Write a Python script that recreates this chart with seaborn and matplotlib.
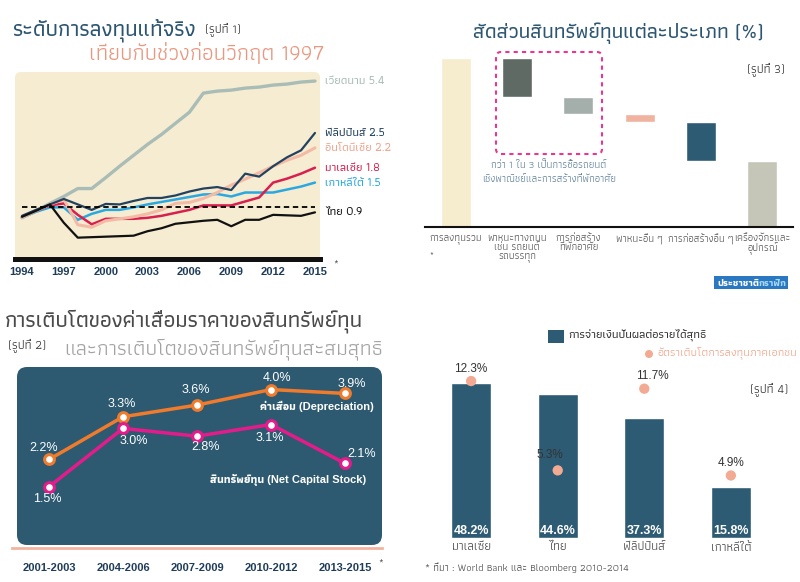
import numpy as np
import seaborn as sns
import matplotlib.pyplot as plt
import matplotlib.transforms as mtransforms
from matplotlib.patches import FancyBboxPatch, Rectangle, Circle

# ---- data -------------------------------------------------------------
years = list(range(1994, 2016))
vietnam = [0.79, 0.93, 1.08, 1.22, 1.38, 1.38, 1.60, 1.83, 2.05, 2.27, 2.47,
           2.88, 3.54, 4.68, 4.80, 4.86, 4.98, 5.04, 5.16, 5.22, 5.34, 5.40]
philippines = [0.83, 0.95, 1.06, 1.17, 1.06, 0.95, 1.07, 1.06, 1.13, 1.19, 1.19,
               1.24, 1.32, 1.38, 1.41, 1.35, 1.68, 1.62, 1.83, 2.01, 2.15, 2.50]
indonesia = [0.80, 0.93, 1.06, 1.16, 0.65, 0.60, 0.73, 0.77, 0.81, 0.87, 0.95,
             1.08, 1.10, 1.18, 1.30, 1.45, 1.57, 1.70, 1.83, 1.95, 2.05, 2.20]
malaysia = [0.81, 0.93, 1.04, 1.08, 0.85, 0.66, 0.77, 0.77, 0.77, 0.79, 0.83,
            0.89, 0.95, 1.04, 1.04, 1.04, 1.12, 1.20, 1.50, 1.58, 1.68, 1.80]
korea = [0.80, 0.91, 1.00, 1.00, 0.75, 0.87, 0.95, 0.95, 1.00, 1.06, 1.11,
         1.16, 1.21, 1.26, 1.27, 1.22, 1.30, 1.30, 1.30, 1.36, 1.42, 1.50]
thailand = [0.81, 0.93, 1.06, 0.69, 0.39, 0.40, 0.41, 0.42, 0.43, 0.52, 0.58,
            0.67, 0.70, 0.73, 0.75, 0.62, 0.75, 0.75, 0.85, 0.84, 0.83, 0.90]
pre_crisis_level = 1.0

periods = ['2001-2003', '2004-2006', '2007-2009', '2010-2012', '2013-2015']
depreciation = [2.2, 3.3, 3.6, 4.0, 3.9]
net_capital = [1.5, 3.0, 2.8, 3.1, 2.1]

asset_types = ['การลงทุนรวม', 'พาหนะทางถนน\nเช่น รถยนต์\nรถบรรทุก',
               'การก่อสร้าง\nที่พักอาศัย', 'พาหนะอื่น ๆ', 'การก่อสร้างอื่น ๆ',
               'เครื่องจักรและ\nอุปกรณ์']
asset_share = [100, 23, 10, 5, 23, 39]

countries = ['มาเลเซีย', 'ไทย', 'ฟิลิปปินส์', 'เกาหลีใต้']
payout = [48.2, 44.6, 37.3, 15.8]
private_growth = [12.3, 5.3, 11.7, 4.9]

# ---- style ------------------------------------------------------------
sns.set_style('white')
plt.rcParams['font.family'] = ['Athiti', 'DejaVu Sans']
LATIN = ['Liberation Sans', 'Athiti', 'DejaVu Sans']

W, H = 800, 582
fig = plt.figure(figsize=(8, 5.82), dpi=100)


def rect(x0, y0, x1, y1):
    return [x0 / W, 1 - y1 / H, (x1 - x0) / W, (y1 - y0) / H]


def ftext(x, y, s, **kw):
    return fig.text(x / W, 1 - y / H, s, **kw)


def rbox(x0, y0, x1, y1, r=0.08, **kw):
    p = FancyBboxPatch((x0 / 100, (H - y1) / 100), (x1 - x0) / 100, (y1 - y0) / 100,
                       boxstyle=f'round,pad=0,rounding_size={r}',
                       transform=fig.dpi_scale_trans, zorder=-1, **kw)
    fig.add_artist(p)


# ---- panel 1: real investment vs pre-crisis --------------------------
BREAK, K = 2.6, 0.338


def fwd(v):
    v = np.asarray(v, dtype=float)
    return np.where(v <= BREAK, v, BREAK + (v - BREAK) * K)


def inv(u):
    u = np.asarray(u, dtype=float)
    return np.where(u <= BREAK, u, BREAK + (u - BREAK) / K)


rbox(15, 72, 320, 262, r=0.06, fc='#f6ecd2', ec='none')
ax1 = fig.add_axes(rect(15, 72, 320, 259))
ax1.patch.set_visible(False)
ax1.set_yscale('function', functions=(fwd, inv))
lines1 = [('เวียดนาม', vietnam, '#a9bdb6', '#a9bdb6', 2.4),
          ('เกาหลีใต้', korea, '#2aa8e0', '#2aa8e0', 1.8),
          ('มาเลเซีย', malaysia, '#d8204e', '#d8204e', 1.8),
          ('อินโดนีเซีย', indonesia, '#f3bba6', '#eea58e', 2.2),
          ('ฟิลิปปินส์', philippines, '#22425f', '#22425f', 1.6),
          ('ไทย', thailand, '#111111', '#111111', 1.6)]
blend = mtransforms.blended_transform_factory(ax1.transAxes, ax1.transData)
for name, vals, col, tcol, lw in lines1:
    sns.lineplot(x=years, y=vals, color=col, lw=lw, ax=ax1)
    ax1.text(1.016, vals[-1], f'{name} {vals[-1]:.1f}', transform=blend,
             color=tcol, fontsize=8.5, fontweight='medium', va='center')
ax1.hlines(pre_crisis_level, years[0], years[-1], color='black', lw=1.3,
           linestyles=(0, (3, 2)))
ax1.set_xlim(1993.5, 2015.36)
ax1.set_ylim(-0.04, 5.94)
for s in ['top', 'right', 'left']:
    ax1.spines[s].set_visible(False)
ax1.spines['bottom'].set_color('#111111')
ax1.spines['bottom'].set_linewidth(3.6)
ax1.set_xticks(years[::3], [str(y) for y in years[::3]], fontweight='bold',
               family=LATIN, fontsize=8, color='#1f3d5a')
ax1.set_yticks([])
ax1.tick_params(axis='x', length=0, pad=6)
ax1.set_xlabel('')
ax1.set_ylabel('')
ftext(333, 267, '*', fontsize=7, color='#333')

ftext(12, 30, 'ระดับการลงทุนแท้จริง', fontsize=16, fontweight='medium',
      color='#2b5570', va='center')
ftext(205, 30, '(รูปที่ 1)', fontsize=9, style='italic', color='#333', va='center')
ftext(325, 53, 'เทียบกับช่วงก่อนวิกฤต 1997', fontsize=16, color='#e9977f',
      ha='right', va='center')

# ---- panel 2: depreciation vs net capital stock ----------------------
rbox(17, 367, 382, 545, r=0.1, fc='#2d5a71', ec='none')
ax2 = fig.add_axes(rect(12, 367, 382, 545))
ax2.patch.set_visible(False)
for s in ['top', 'right', 'left']:
    ax2.spines[s].set_visible(False)
ax2.spines['bottom'].set_position(('outward', 2))
ax2.spines['bottom'].set_color('#f2b4a1')
ax2.spines['bottom'].set_linewidth(2)
x2 = list(range(len(periods)))
for vals, col in [(depreciation, '#f07b2c'), (net_capital, '#e41b8b')]:
    sns.lineplot(x=x2, y=vals, color=col, lw=2.5, marker='o', markersize=7,
                 markerfacecolor='white', markeredgecolor=col,
                 markeredgewidth=2.2, ax=ax2)
dep_off = [(-4, 8), (-1, 9), (-1, 11), (4, 8), (5, 7)]
net_off = [(-1, -9), (8, -9), (6, -8), (-1, -10), (12, 7)]
for i in x2:
    ax2.annotate(f'{depreciation[i]:.1f}%', (i, depreciation[i]), xytext=dep_off[i],
                 textcoords='offset points', ha='center', va='center',
                 color='white', fontsize=9, family=LATIN)
    ax2.annotate(f'{net_capital[i]:.1f}%', (i, net_capital[i]), xytext=net_off[i],
                 textcoords='offset points', ha='center', va='center',
                 color='white', fontsize=9, family=LATIN)
ax2.text(0.978, 0.781, 'ค่าเสื่อม (Depreciation)', transform=ax2.transAxes,
         ha='right', va='center', color='white', fontsize=8, fontweight='bold',
         family=LATIN)
ax2.text(0.957, 0.365, 'สินทรัพย์ทุน (Net Capital Stock)', transform=ax2.transAxes,
         ha='right', va='center', color='white', fontsize=8, fontweight='bold',
         family=LATIN)
ax2.set_xlim(-0.5, 4.5)
ax2.set_ylim(0, 4.58)
ax2.set_xticks(x2, periods, fontweight='bold', family=LATIN, fontsize=8,
               color='#1f3d5a')
ax2.set_xticks(np.arange(-0.5, 5, 1), minor=True)
ax2.set_yticks([])
ax2.tick_params(axis='x', which='major', length=0, pad=11)
ax2.tick_params(axis='x', which='minor', length=6, width=2, color='#f2b4a1',
                direction='inout')
ax2.set_xlabel('')
ax2.set_ylabel('')
ftext(378, 566, '*', fontsize=7, color='#333')

ftext(5, 321, 'การเติบโตของค่าเสื่อมราคาของสินทรัพย์ทุน', fontsize=16,
      fontweight='medium', color='#4a4a4a', va='center')
ftext(8, 346, '(รูปที่ 2)', fontsize=9, style='italic', color='#333', va='center')
ftext(383, 349, 'และการเติบโตของสินทรัพย์ทุนสะสมสุทธิ', fontsize=15.3,
      color='#a3a3a3', ha='right', va='center')

# ---- panel 3: capital asset shares (waterfall) -----------------------
ax3 = fig.add_axes(rect(425, 41, 793, 227))
ax3.patch.set_visible(False)
for s in ['top', 'right', 'left']:
    ax3.spines[s].set_visible(False)
ax3.spines['bottom'].set_color('#111111')
ax3.spines['bottom'].set_linewidth(1.5)
bottoms = [0] + [asset_share[0] - sum(asset_share[1:i + 1]) for i in range(1, len(asset_share))]
colors3 = ['#f6edcf', '#5f6a64', '#a4afab', '#efb3a0', '#2d5b73', '#c5c6b8']
ax3.bar(range(len(asset_types)), asset_share, bottom=bottoms, width=0.49,
        color=colors3)
ax3.set_xlim(-0.5, 5.5)
ax3.set_ylim(0, 110)
ax3.set_xticks(range(len(asset_types)), asset_types, fontsize=7.5,
               color='#555555', linespacing=0.95)
ax3.set_xticks(np.arange(-0.5, 6, 1), minor=True)
ax3.set_yticks([])
ax3.tick_params(axis='x', which='major', length=0, pad=5)
ax3.tick_params(axis='x', which='minor', length=4, width=1.5, color='#111111',
                direction='out')
ftext(429, 256, '*', fontsize=6, color='#333')

rbox(496, 52, 602, 154, r=0.05, fc='none', ec='#e8378d', lw=1.5,
     ls=(0, (2, 2)))
ftext(549, 165, 'กว่า 1 ใน 3 เป็นการซื้อรถยนต์', fontsize=7.5, color='#5d8099',
      ha='center', va='center')
ftext(549, 180, 'เชิงพาณิชย์และการสร้างที่พักอาศัย', fontsize=7.5, color='#5d8099',
      ha='center', va='center')
ftext(618, 33, 'สัดส่วนสินทรัพย์ทุนแต่ละประเภท (%)', fontsize=15,
      fontweight='medium', color='#2b5570', ha='center', va='center')
ftext(785, 70, '(รูปที่ 3)', fontsize=9, style='italic', color='#333',
      ha='right', va='center')

# ---- panel 4: dividend payout vs private investment growth -----------
ax4 = fig.add_axes(rect(414, 300, 788, 538))
ax4.patch.set_visible(False)
sns.barplot(x=countries, y=payout, color='#2d5b73', width=0.46, saturation=1,
            ax=ax4)
ax4b = ax4.twinx()
sns.scatterplot(x=np.arange(len(countries)), y=private_growth, color='#f2aa92',
                s=55, edgecolor='none', ax=ax4b, zorder=5)
ax4.set_xlim(-0.66, 3.66)
ax4b.set_xlim(-0.66, 3.66)
ax4.set_ylim(0, 73.9)
ax4b.set_ylim(0, 18.65)
for i, v in enumerate(payout):
    ax4.annotate(f'{v:.1f}%', (i, 0), xytext=(0, 1), textcoords='offset points',
                 ha='center', va='bottom', color='white', fontsize=9,
                 fontweight='bold', family=LATIN)
dot_off = [(0, 9), (-6, 11), (6, 9), (0, 9)]
for i, v in enumerate(private_growth):
    ax4b.annotate(f'{v:.1f}%', (i, v), xytext=dot_off[i], textcoords='offset points',
                  ha='center', va='center', color='#333333', fontsize=8.5,
                  family=LATIN)
ax4.set_xticks(range(len(countries)), countries, fontsize=9, color='#444444')
ax4.tick_params(axis='x', length=0, pad=3)
for a in (ax4, ax4b):
    a.set_yticks([])
    a.set_xlabel('')
    a.set_ylabel('')
    for s in a.spines.values():
        s.set_visible(False)

fig.add_artist(Rectangle((548 / W, 1 - 343 / H), 16 / W, 13 / H, zorder=-1,
                         transform=fig.transFigure, fc='#2d5b73', ec='none'))
ftext(568, 336, 'การจ่ายเงินปันผลต่อรายได้สุทธิ', fontsize=8.5,
      fontweight='medium', color='#333333', va='center')
fig.add_artist(Circle((649 / 100, (H - 354) / 100), 0.04, zorder=-1,
                      transform=fig.dpi_scale_trans, fc='#f2aa92', ec='none'))
ftext(657, 354, 'อัตราเติบโตการลงทุนภาคเอกชน', fontsize=8.5, color='#f2a48c',
      va='center')
ftext(788, 390, '(รูปที่ 4)', fontsize=9, style='italic', color='#333',
      ha='right', va='center')
ftext(425, 568, '* ที่มา : World Bank และ Bloomberg 2010-2014', fontsize=7.5,
      color='#444444', va='center')

# logo
fig.add_artist(Rectangle((714 / W, 1 - 289 / H), 74 / W, 13 / H, zorder=-1,
                         transform=fig.transFigure, fc='#2a78c2', ec='none'))
logo = ftext(717, 283, 'ประชาชาติ', fontsize=7, color='white', va='center',
             fontweight='bold')
ax4.annotate('กราฟิก', xy=(1, 0.5), xycoords=logo, va='center', ha='left',
             fontsize=7, color='#a6d8f7', fontweight='bold')

fig.savefig('out.png', dpi=100)
